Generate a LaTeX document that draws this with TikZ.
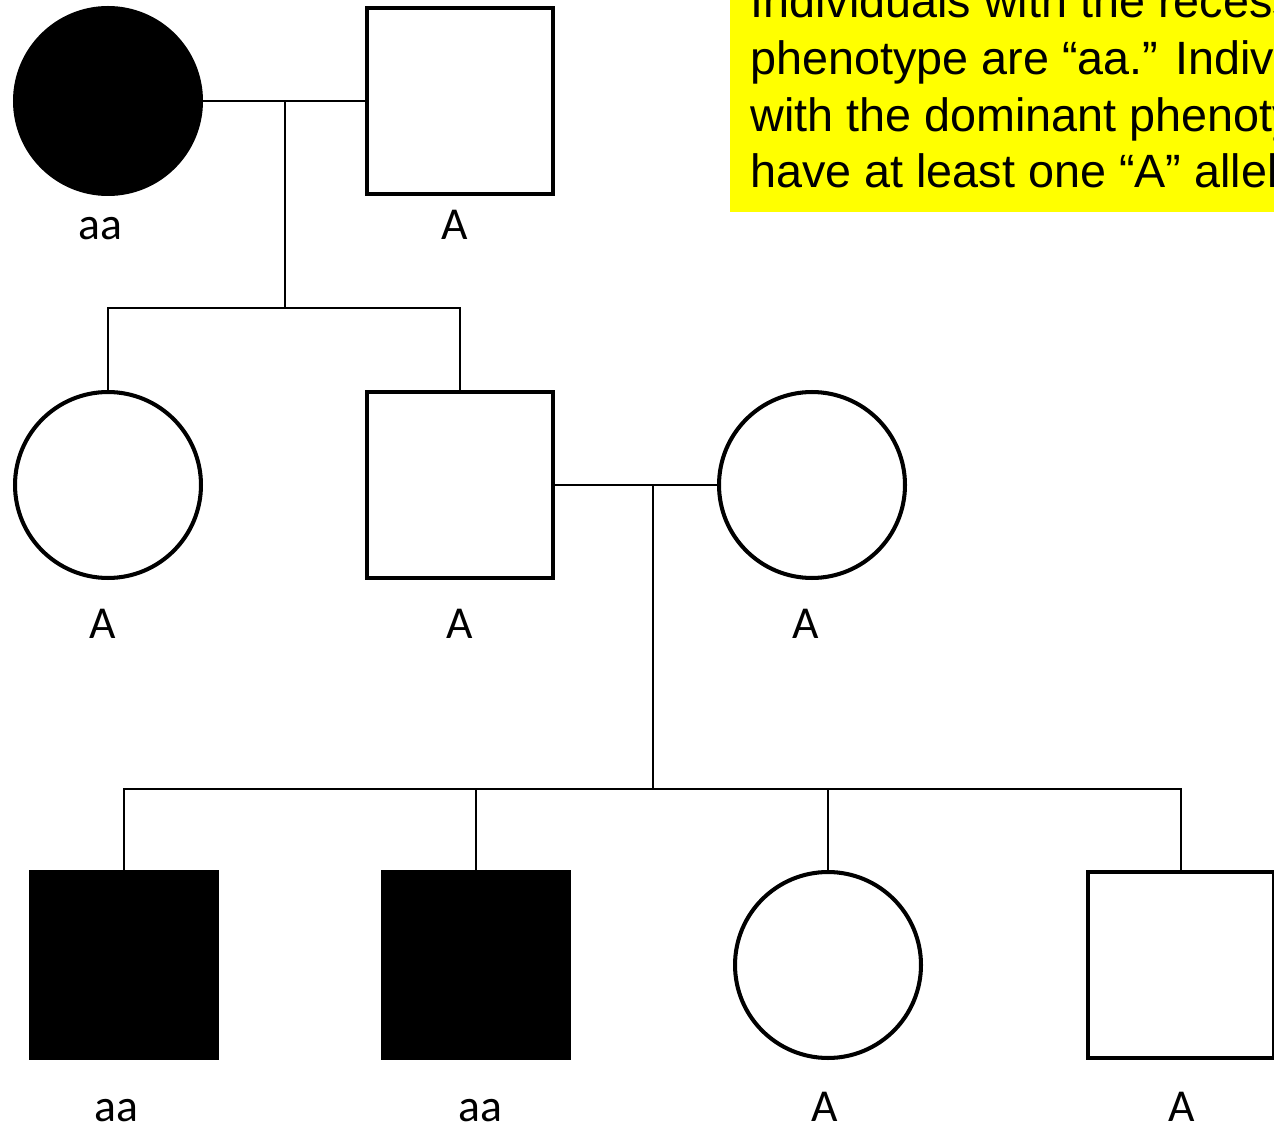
\documentclass[tikz,border=0pt]{standalone}
\usepackage{fontspec}
\usepackage{tikz}
\newfontfamily\labelfont{Carlito}
\newfontfamily\notefont{Liberation Sans}
\definecolor{noteyellow}{RGB}{255,255,0}

\begin{document}
\begin{tikzpicture}[x=0.02cm, y=-0.02cm]
    \tikzstyle{female} = [circle, draw=black, line width=2.3pt, minimum size=3.72cm, inner sep=0pt, fill=white]
    \tikzstyle{male} = [rectangle, draw=black, line width=2.3pt, minimum size=3.72cm, inner sep=0pt, fill=white]
    \tikzstyle{affected} = [fill=black]
    \tikzstyle{geno} = [anchor=base, inner sep=0pt, font=\fontsize{26}{31}\selectfont\labelfont]
    \tikzstyle{link} = [line width=1.2pt]
    \useasboundingbox (0,0) rectangle (1274,1124);
    \clip (0,0) rectangle (1274,1124);

    % generation I
    \node[female, affected] (I1) at (108,101) {};
    \node[male] (I2) at (460,101) {};
    \node[geno] (gI1) at (100,240) {aa};
    \node[geno] (gI2) at (455,240) {A};

    % generation II
    \node[female] (II1) at (108,485) {};
    \node[male] (II2) at (460,485) {};
    \node[female] (II3) at (812,485) {};
    \node[geno] (gII1) at (103,639) {A};
    \node[geno] (gII2) at (460,639) {A};
    \node[geno] (gII3) at (806,639) {A};

    % generation III
    \node[male, affected] (III1) at (124,965) {};
    \node[male, affected] (III2) at (476,965) {};
    \node[female] (III3) at (828,965) {};
    \node[male] (III4) at (1181,965) {};
    \node[geno] (gIII1) at (116,1121) {aa};
    \node[geno] (gIII2) at (480,1121) {aa};
    \node[geno] (gIII3) at (825,1121) {A};
    \node[geno] (gIII4) at (1182,1121) {A};

    % matings and sibships
    \coordinate (m1) at (285,101);
    \coordinate (s1) at (285,308);
    \coordinate (m2) at (653,485);
    \coordinate (s2) at (653,789);
    \draw[link] (I1) -- (I2);
    \draw[link] (m1) -- (s1);
    \draw[link] (II1.north) |- (II2.north |- s1) -- (II2.north);
    \draw[link] (II2) -- (II3);
    \draw[link] (m2) -- (s2);
    \draw[link] (III1.north) |- (III4.north |- s2) -- (III4.north);
    \draw[link] (III2.north) -- (III2.north |- s2);
    \draw[link] (III3.north) -- (III3.north |- s2);

    % note box
    \fill[noteyellow] (730,-10) rectangle (1290,212);
    \node[anchor=base west, align=left, inner sep=0pt, font=\fontsize{26.6}{32.3}\selectfont\notefont] (note) at (750,188)
        {Individuals with the recessive\\ phenotype are “aa.” Individuals\\ with the dominant phenotype\\ have at least one “A” allele.};
\end{tikzpicture}
\end{document}
